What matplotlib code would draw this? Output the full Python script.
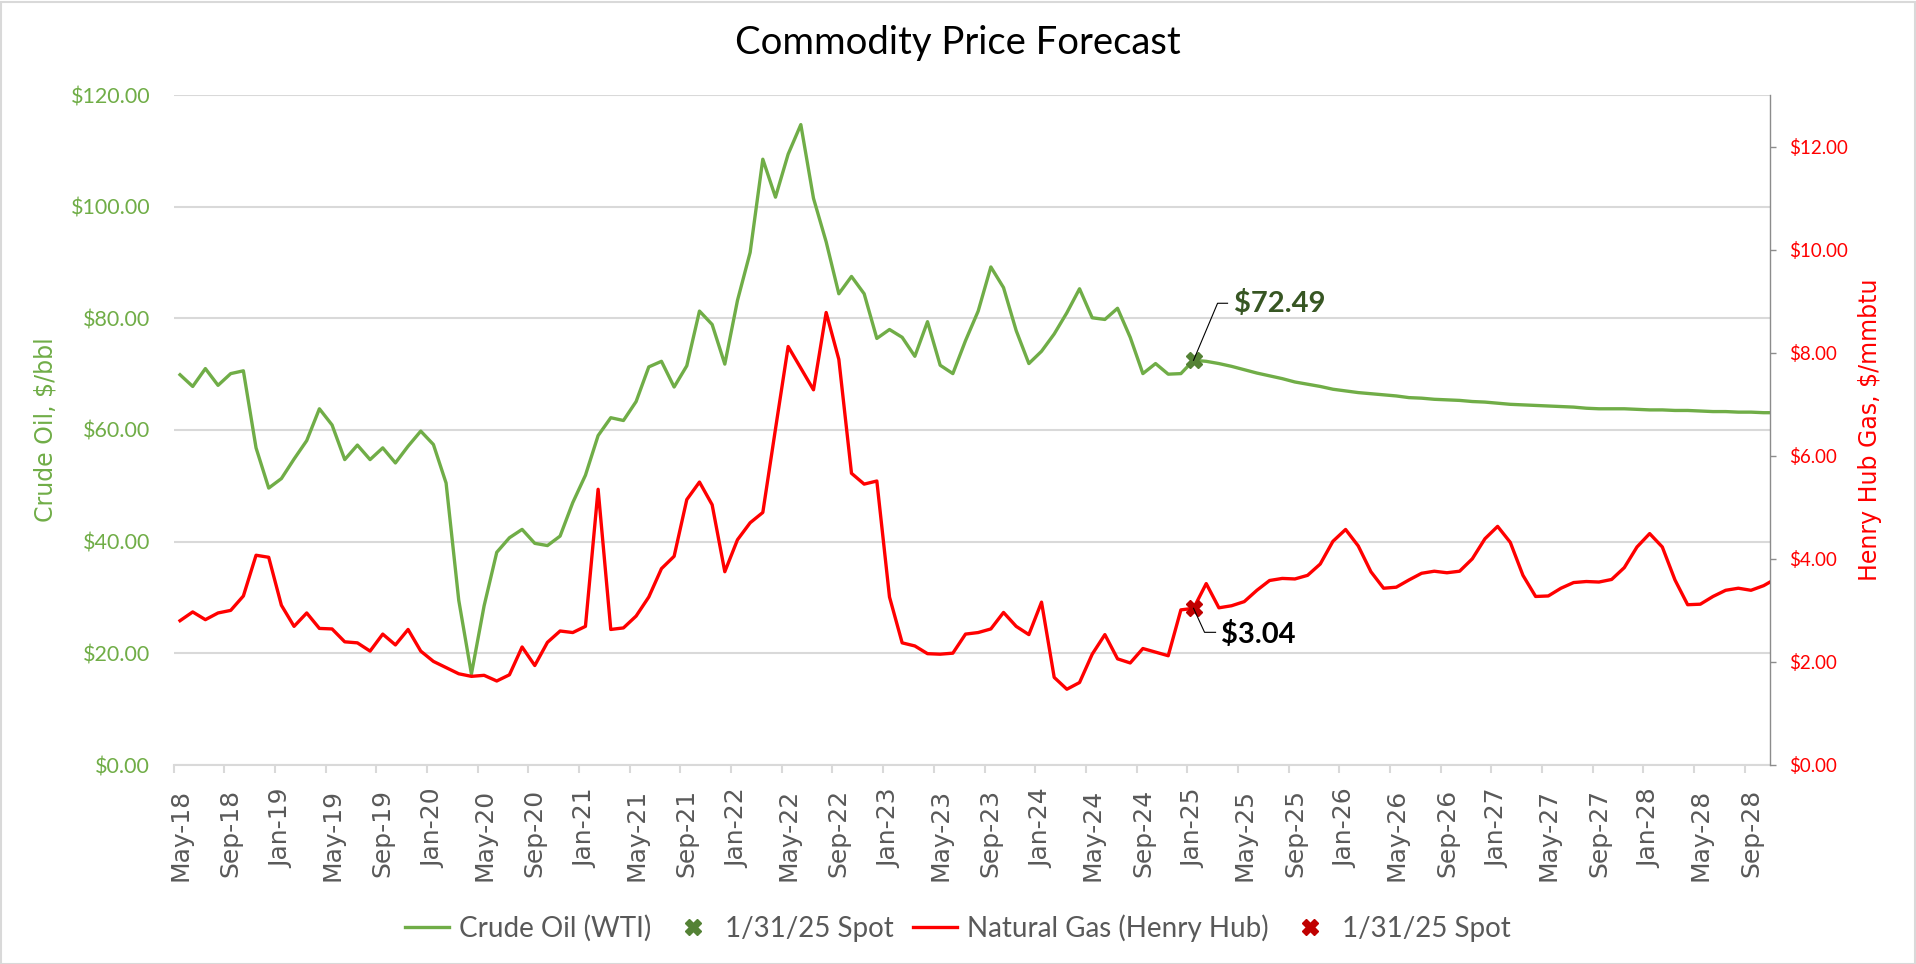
import matplotlib
matplotlib.use("Agg")
import matplotlib.pyplot as plt
from matplotlib.lines import Line2D
from matplotlib.patches import Rectangle
import numpy as np
import pandas as pd

# ---------------- data ----------------
months = pd.date_range("2018-05-01", periods=127, freq="MS")

oil = [69.9, 67.8, 71.0, 68.0, 70.1, 70.6, 56.8, 49.6, 51.3, 54.8, 58.1, 63.8,
       60.9, 54.7, 57.3, 54.7, 56.8, 54.1, 57.1, 59.8, 57.4, 50.5, 29.5, 16.3,
       28.5, 38.1, 40.7, 42.2, 39.7, 39.3, 41.0, 47.0, 51.9, 59.0, 62.2, 61.7,
       65.1, 71.3, 72.3, 67.7, 71.5, 81.3, 78.9, 71.8, 83.2, 91.8, 108.5, 101.7,
       109.4, 114.7, 101.5, 93.7, 84.4, 87.5, 84.4, 76.4, 78.0, 76.6, 73.2, 79.4,
       71.6, 70.1, 76.0, 81.3, 89.2, 85.5, 77.8, 71.9, 74.1, 77.2, 81.0, 85.3,
       80.1, 79.8, 81.8, 76.6, 70.1, 71.9, 70.0, 70.1, 72.49, 72.3, 71.9, 71.4,
       70.8, 70.2, 69.7, 69.2, 68.6, 68.2, 67.8, 67.3, 67.0, 66.7, 66.5, 66.3,
       66.1, 65.8, 65.7, 65.5, 65.4, 65.3, 65.1, 65.0, 64.8, 64.6, 64.5, 64.4,
       64.3, 64.2, 64.1, 63.9, 63.8, 63.8, 63.8, 63.7, 63.6, 63.6, 63.5, 63.5,
       63.4, 63.3, 63.3, 63.2, 63.2, 63.1, 63.1]

gas = [2.80, 2.97, 2.82, 2.95, 3.00, 3.28, 4.07, 4.03, 3.10, 2.69, 2.95, 2.65,
       2.64, 2.39, 2.37, 2.21, 2.54, 2.33, 2.63, 2.21, 2.01, 1.89, 1.77, 1.72,
       1.74, 1.63, 1.75, 2.29, 1.93, 2.38, 2.60, 2.57, 2.69, 5.35, 2.63, 2.66,
       2.89, 3.26, 3.81, 4.05, 5.15, 5.49, 5.05, 3.75, 4.37, 4.70, 4.90, 6.52,
       8.12, 7.70, 7.28, 8.78, 7.87, 5.66, 5.45, 5.51, 3.26, 2.37, 2.31, 2.16,
       2.15, 2.17, 2.54, 2.57, 2.64, 2.96, 2.69, 2.53, 3.16, 1.70, 1.47, 1.60,
       2.15, 2.53, 2.06, 1.98, 2.26, 2.19, 2.12, 3.01, 3.04, 3.52, 3.05, 3.09,
       3.17, 3.39, 3.58, 3.62, 3.61, 3.68, 3.90, 4.34, 4.57, 4.25, 3.75, 3.43,
       3.45, 3.59, 3.72, 3.76, 3.73, 3.76, 4.00, 4.39, 4.63, 4.32, 3.68, 3.27,
       3.28, 3.43, 3.54, 3.56, 3.55, 3.60, 3.83, 4.23, 4.49, 4.23, 3.59, 3.11,
       3.12, 3.27, 3.39, 3.43, 3.39, 3.48, 3.62]

spot_month = "2025-01-01"
spot_oil = 72.49
spot_gas = 3.04

oil_ticks = [0, 20, 40, 60, 80, 100, 120]
gas_ticks = [0, 2, 4, 6, 8, 10, 12]

# ---------------- style ----------------
GREEN = "#70AD47"
GREEN_DK = "#548235"
GREEN_LBL = "#375623"
RED = "#FF0000"
RED_DK = "#C00000"
GREY_TXT = "#595959"
GRID = "#D9D9D9"

plt.rcParams["font.family"] = ["Lato", "DejaVu Sans"]

W, H = 1916, 964
fig = plt.figure(figsize=(W / 100, H / 100), dpi=100)
L, R, B, T = 173.7, 1770, 765, 95
ax = fig.add_axes([L / W, 1 - B / H, (R - L) / W, (B - T) / H])
ax2 = ax.twinx()

x = np.arange(len(months))
ax.plot(x, oil, color=GREEN, lw=2.4, solid_joinstyle="round", zorder=3)
ax2.plot(x, gas, color=RED, lw=2.4, solid_joinstyle="round", zorder=3)

si = months.get_loc(pd.Timestamp(spot_month))
ax.plot([si], [spot_oil], marker="X", ms=11.5, color=GREEN_DK, ls="none", zorder=5)
ax2.plot([si], [spot_gas], marker="X", ms=11.5, color=RED_DK, ls="none", zorder=5)

ax.set_xlim(-0.5, 125.5)
ax.set_ylim(0, 120)
ax2.set_ylim(0, 13)

# grid
ax.set_yticks(oil_ticks)
ax.yaxis.grid(True, color=GRID, lw=1.5)
ax.set_axisbelow(True)
ax.set_yticklabels([f"${v:.2f}" for v in oil_ticks], color=GREEN, fontsize=15.5)
ax.tick_params(axis="y", length=0, pad=17)

ax2.set_yticks(gas_ticks)
ax2.set_yticklabels([f"${v:.2f}" for v in gas_ticks], color=RED, fontsize=13.5)
ax2.tick_params(axis="y", length=4.5, width=1, color="#8C8C8C", pad=9.5)

# x axis
major = list(range(0, len(months) - 1, 4))
ax.set_xticks(major)
ax.set_xticklabels([months[i].strftime("%b-%y") for i in major], rotation=90,
                   fontsize=18, color=GREY_TXT, family="DejaVu Sans")
ax.tick_params(axis="x", which="major", length=0, pad=17)
ax.set_xticks([i - 0.5 for i in range(0, len(months) - 1, 4)], minor=True)
ax.tick_params(axis="x", which="minor", length=6, width=1.5, color=GRID)

for a in (ax, ax2):
    for s in ("top", "left"):
        a.spines[s].set_visible(False)
ax.spines["right"].set_visible(False)
ax2.spines["bottom"].set_visible(False)
ax.spines["bottom"].set_color(GRID)
ax.spines["bottom"].set_linewidth(1.5)
ax2.spines["right"].set_color("#8C8C8C")
ax2.spines["right"].set_linewidth(1)

# axis titles
fig.text(46 / W, 1 - 430 / H, "Crude Oil, $/bbl", rotation=90, ha="center",
         va="center", color=GREEN, fontsize=17, family="DejaVu Sans")
fig.text(1870 / W, 1 - 430 / H, "Henry Hub Gas, $/mmbtu", rotation=90,
         ha="center", va="center", color=RED, fontsize=17, family="DejaVu Sans")

# title
fig.text(0.5, 1 - 43 / H, "Commodity Price Forecast", ha="center", va="center",
         fontsize=27.5, color="black")

# data labels with leader lines (pixel offsets from marker)
def leader(axis, xv, yv, pts, text, tx, ty, color):
    px, py = axis.transData.transform((xv, yv))
    xs = [px + dx for dx, dy in pts]
    ys = [py + dy for dx, dy in pts]
    fig.add_artist(Line2D(np.array(xs) / W, np.array(ys) / H, transform=fig.transFigure,
                          color="black", lw=0.8, zorder=6))
    fig.text((px + tx) / W, (py + ty) / H, text, ha="left", va="center",
             fontsize=21, fontweight="bold", color=color)

leader(ax, si, spot_oil, [(0, 0), (24, 57), (34, 57)], f"${spot_oil:.2f}", 40, 57, GREEN_LBL)
leader(ax2, si, spot_gas, [(0, 0), (11, -24), (22, -24)], f"${spot_gas:.2f}", 27, -26, "black")

# legend
handles = [
    Line2D([], [], color=GREEN, lw=2.4),
    Line2D([], [], color=GREEN_DK, marker="X", ms=11.5, ls="none"),
    Line2D([], [], color=RED, lw=2.4),
    Line2D([], [], color=RED_DK, marker="X", ms=11.5, ls="none"),
]
labels = ["Crude Oil (WTI)", "1/31/25 Spot", "Natural Gas (Henry Hub)", "1/31/25 Spot"]
leg = fig.legend(handles, labels, loc="center", bbox_to_anchor=(0.5, 1 - 928 / H),
                 ncol=4, frameon=False, fontsize=20, handlelength=1.6,
                 handletextpad=0.35, columnspacing=0.7, labelcolor=GREY_TXT)

# chart border
fig.add_artist(Rectangle((0.5 / W, 0.5 / H), (W - 2) / W, (H - 2) / H,
                         transform=fig.transFigure, fill=False, edgecolor=GRID, lw=1.5))

fig.savefig("out.png", dpi=100)
